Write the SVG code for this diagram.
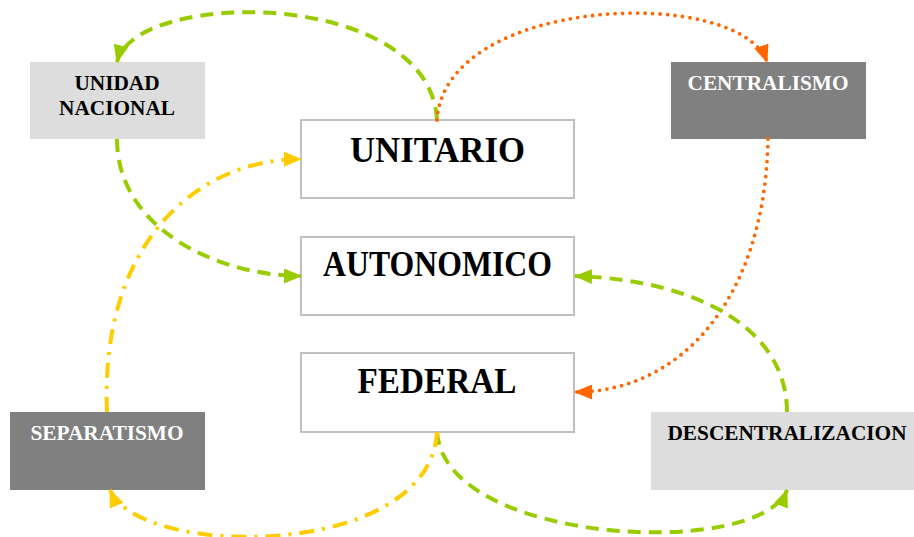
<svg xmlns="http://www.w3.org/2000/svg" width="914" height="537" viewBox="0 0 914 537">
  <style>
    .lbl { font-family: "Liberation Serif", "Times New Roman", serif; font-weight: bold; text-anchor: middle; }
    .small { font-size: 21.3px; }
    .big { font-size: 35px; }
    .dark { fill: #ffffff; }
    .ink { fill: #000000; }
    .main { fill: #ffffff; stroke: #c0c0c0; stroke-width: 2; }
    .light { fill: #dddddd; }
    .grey { fill: #808080; }
    .edge { fill: none; stroke-width: 4; }
    .green { stroke: #99cc00; stroke-dasharray: 13 8; marker-end: url(#arrGreen); }
    .orange { stroke: #ff6600; stroke-width: 3.8; stroke-dasharray: 0 7.5; stroke-linecap: round; marker-end: url(#arrOrange); }
    .yellow { stroke: #ffcc00; stroke-dasharray: 15 8 3 8; marker-end: url(#arrYellow); }
  </style>
  <defs>
    <marker id="arrGreen" viewBox="0 0 18 15" refX="17" refY="7.5" markerWidth="18" markerHeight="15" markerUnits="userSpaceOnUse" orient="auto">
      <path d="M0,0 L18,7.5 L0,15 z" fill="#99cc00"/>
    </marker>
    <marker id="arrOrange" viewBox="0 0 18 15" refX="17" refY="7.5" markerWidth="18" markerHeight="15" markerUnits="userSpaceOnUse" orient="auto">
      <path d="M0,0 L18,7.5 L0,15 z" fill="#ff6600"/>
    </marker>
    <marker id="arrYellow" viewBox="0 0 18 15" refX="17" refY="7.5" markerWidth="18" markerHeight="15" markerUnits="userSpaceOnUse" orient="auto">
      <path d="M0,0 L18,7.5 L0,15 z" fill="#ffcc00"/>
    </marker>
  </defs>

  <rect width="914" height="537" fill="#ffffff"/>

  <g id="node-unidad-nacional">
    <rect class="light" x="30" y="62" width="175" height="77"/>
    <text class="lbl small ink" x="117" y="90">UNIDAD</text>
    <text class="lbl small ink" x="117" y="115">NACIONAL</text>
  </g>

  <g id="node-centralismo">
    <rect class="grey" x="671" y="62" width="195" height="77"/>
    <text class="lbl small dark" x="768" y="90">CENTRALISMO</text>
  </g>

  <g id="node-separatismo">
    <rect class="grey" x="10" y="412" width="195" height="78"/>
    <text class="lbl small dark" x="107" y="440">SEPARATISMO</text>
  </g>

  <g id="node-descentralizacion">
    <rect class="light" x="651" y="412" width="263" height="78"/>
    <text class="lbl small ink" x="787" y="440">DESCENTRALIZACION</text>
  </g>

  <g id="node-unitario">
    <rect class="main" x="301" y="120" width="273" height="78"/>
    <text class="lbl big ink" x="437.5" y="162" textLength="175" lengthAdjust="spacingAndGlyphs">UNITARIO</text>
  </g>

  <g id="node-autonomico">
    <rect class="main" x="301" y="237" width="273" height="78"/>
    <text class="lbl big ink" x="437.5" y="276" textLength="229" lengthAdjust="spacingAndGlyphs">AUTONOMICO</text>
  </g>

  <g id="node-federal">
    <rect class="main" x="301" y="353" width="273" height="79"/>
    <text class="lbl big ink" x="437" y="393" textLength="159" lengthAdjust="spacingAndGlyphs">FEDERAL</text>
  </g>

  <g id="connectors">
    <!-- unitario -> unidad nacional -->
    <path class="edge green" d="M437,120 C430,-12 135,-12 117,62"/>
    <!-- unidad nacional -> autonomico -->
    <path class="edge green" d="M117,139 C117,230 220,276 301,276"/>
    <!-- unitario -> centralismo -->
    <path class="edge orange" d="M437,120 C445,-5 740,-15 767,62"/>
    <!-- centralismo -> federal -->
    <path class="edge orange" d="M768,139 C765,300 680,392 575,392"/>
    <!-- descentralizacion -> autonomico -->
    <path class="edge green" d="M787,412 C787,330 700,280 575,276"/>
    <!-- federal -> descentralizacion -->
    <path class="edge green" d="M437,432 C445,545 760,560 787,490"/>
    <!-- federal -> separatismo -->
    <path class="edge yellow" d="M437,432 C430,560 140,560 110,490"/>
    <!-- separatismo -> unitario -->
    <path class="edge yellow" d="M107,412 C100,250 190,160 301,159"/>
  </g>
</svg>
